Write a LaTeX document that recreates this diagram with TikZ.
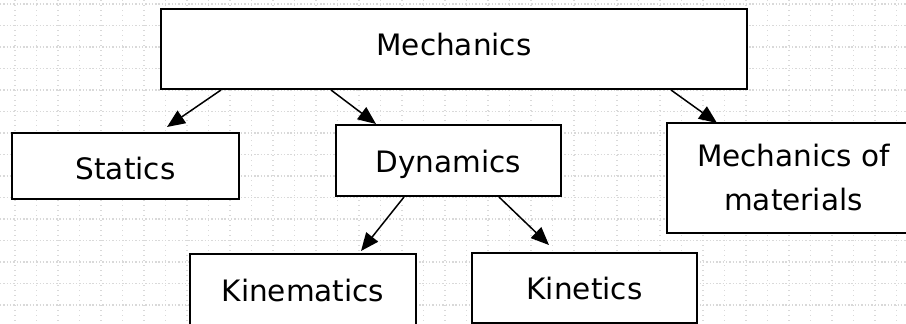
\documentclass[tikz,border=0pt]{standalone}
\usepackage{fontspec}
\setmainfont{DejaVu Sans}
\usetikzlibrary{arrows.meta,calc}
\begin{document}
\begin{tikzpicture}[x=1pt,y=-1pt,
  box/.style={draw=black, line width=2pt, fill=white, inner sep=0pt,
    font=\fontsize{29.5}{44}\selectfont, align=center},
  arr/.style={line width=1.5pt, -{Triangle[length=18pt,width=15pt]}},
  gridline/.style={black!15, line width=1.4pt}]
\useasboundingbox (0,0) rectangle (906,324);
\clip (0,0) rectangle (906,324);
\fill[white] (0,0) rectangle (906,324);
% dotted background grid
\foreach \k in {0,...,15}
  \draw[gridline, dash pattern=on 1.4pt off 1.9pt] (0,{4+21.5*\k}) -- (906,{4+21.5*\k});
\foreach \k in {0,...,41}
  \draw[gridline, dash pattern=on 1.4pt off 3.6pt] ({15+21.5*\k},0) -- ({15+21.5*\k},324);
% boxes
\node[box, minimum width=586pt, minimum height=80pt, text height=22pt, text depth=10pt] (mech) at (454,49) {Mechanics};
\node[box, minimum width=227pt, minimum height=66pt, text height=26pt, text depth=0pt] (stat) at (125.5,166) {Statics};
\node[box, minimum width=225pt, minimum height=71pt, text height=23pt, text depth=0pt] (dyn) at (448.5,160.5) {Dynamics};
\node[box, minimum width=253pt, minimum height=110pt] (mom) at (793.5,178) {Mechanics of\\materials};
\node[box, minimum width=226pt, minimum height=73pt, text height=21pt, text depth=0pt] (kinem) at (303,290.5) {Kinematics};
\node[box, minimum width=225pt, minimum height=70pt, text height=22pt, text depth=0pt] (kinet) at (584.5,288) {Kinetics};
% arrows
\draw[arr] ([xshift=61pt]mech.south west) -- ([xshift=156pt,yshift=5pt]stat.north west);
\draw[arr] ([xshift=171pt]mech.south west) -- ([xshift=41pt]dyn.north west);
\draw[arr] ([xshift=511pt]mech.south west) -- ([xshift=51pt,yshift=-1pt]mom.north west);
\draw[arr] ([xshift=69pt]dyn.south west) -- ([xshift=172pt,yshift=2pt]kinem.north west);
\draw[arr] ([xshift=164pt]dyn.south west) -- ([xshift=78pt,yshift=7pt]kinet.north west);
\end{tikzpicture}
\end{document}
